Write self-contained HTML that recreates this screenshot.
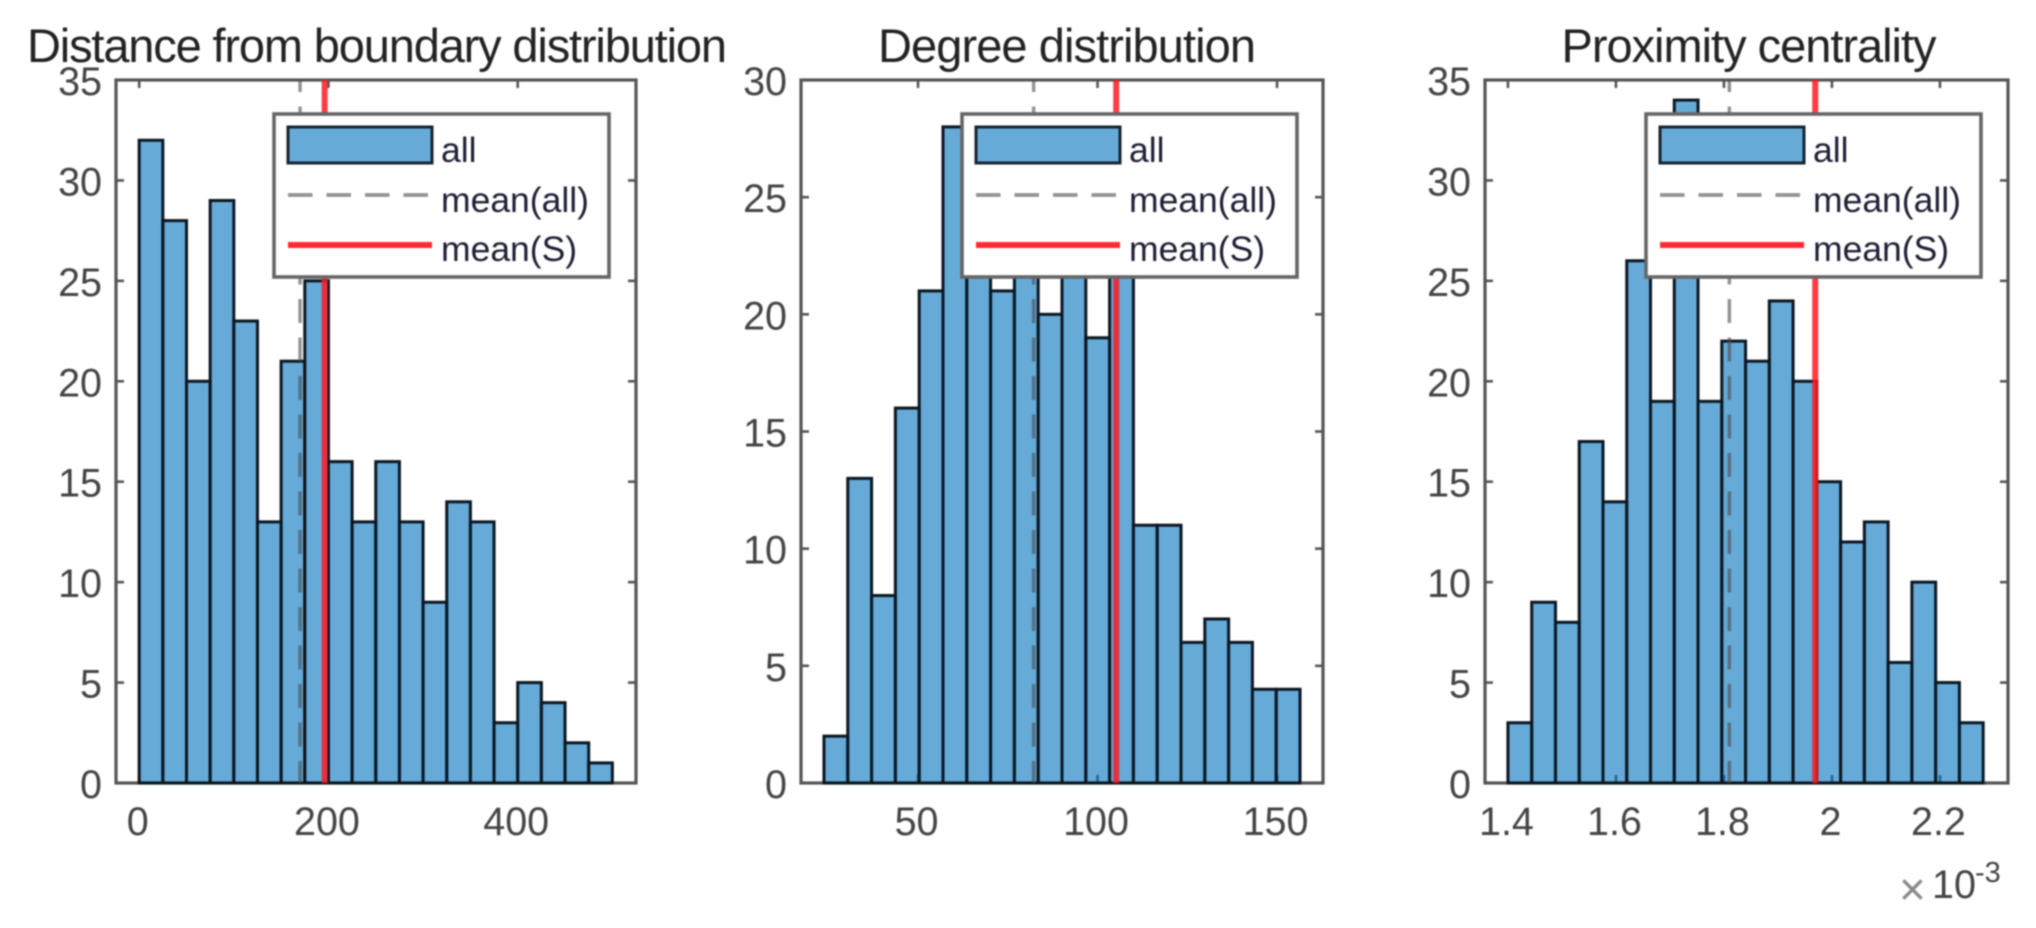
<!DOCTYPE html>
<html lang="en">
<head>
<meta charset="utf-8">
<title>Distribution histograms</title>
<style>
html,body{margin:0;padding:0;background:#fff;width:2036px;height:928px;overflow:hidden}
#figure{display:block;filter:blur(0.8px)}
text{font-family:"Liberation Sans",sans-serif}
</style>
</head>
<body>
<svg id="figure" xmlns="http://www.w3.org/2000/svg" width="2036" height="928" viewBox="0 0 2036 928">
  <rect x="0" y="0" width="2036" height="928" fill="#fff"/>
  <text x="377" y="62" font-size="47" fill="#222" text-anchor="middle" textLength="700" lengthAdjust="spacing">Distance from boundary distribution</text>
  <text x="1067" y="62" font-size="47" fill="#222" text-anchor="middle" textLength="378" lengthAdjust="spacing">Degree distribution</text>
  <text x="1749" y="62" font-size="47" fill="#222" text-anchor="middle" textLength="375" lengthAdjust="spacing">Proximity centrality</text>
  <g id="panel-distance"></g>
  <g id="panel-degree"></g>
  <g id="panel-proximity"></g>
  <g>
    <text x="1899" y="905" font-size="46" fill="#8a8a8a">×</text>
    <text x="1932" y="898" font-size="39.5" fill="#444">10</text>
    <text x="1975" y="882" font-size="29" fill="#444">-3</text>
  </g>
</svg>
<script>
// ---- Data ----
const distanceCounts = [32, 28, 20, 29, 23, 13, 21, 25, 16, 13, 16, 13, 9, 14, 13, 3, 5, 4, 2, 1];
const distanceBinStart = 0;
const distanceBinWidth = 25;
const distanceXLim = [-24.5, 525];
const distanceYLim = [0, 35];
const distanceXTicks = [0, 200, 400];
const distanceXTickLabels = ["0", "200", "400"];
const distanceYTicks = [0, 5, 10, 15, 20, 25, 30, 35];
const distanceMeanAll = 170;
const distanceMeanS = 196;

const degreeCounts = [2, 13, 8, 16, 21, 28, 24, 21, 23, 20, 25, 19, 24, 11, 11, 6, 7, 6, 4, 4];
const degreeBinStart = 23.8;
const degreeBinWidth = 6.63;
const degreeXLim = [17.4, 162.8];
const degreeYLim = [0, 30];
const degreeXTicks = [50, 100, 150];
const degreeXTickLabels = ["50", "100", "150"];
const degreeYTicks = [0, 5, 10, 15, 20, 25, 30];
const degreeMeanAll = 82.2;
const degreeMeanS = 105.2;

const proximityCounts = [3, 9, 8, 17, 14, 26, 19, 34, 19, 22, 21, 24, 20, 15, 12, 13, 6, 10, 5, 3];
const proximityBinStart = 1.4;
const proximityBinWidth = 0.044;
const proximityXLim = [1.3575, 2.326];
const proximityYLim = [0, 35];
const proximityXTicks = [1.4, 1.6, 1.8, 2, 2.2];
const proximityXTickLabels = ["1.4", "1.6", "1.8", "2", "2.2"];
const proximityYTicks = [0, 5, 10, 15, 20, 25, 30, 35];
const proximityMeanAll = 1.81;
const proximityMeanS = 1.969;

const legendLabels = ["all", "mean(all)", "mean(S)"];

// ---- Layout (not data) ----
const TOP = 80, BOTTOM = 783;
const SVGNS = "http://www.w3.org/2000/svg";

function make(parent, tag, attrs, txt) {
  const el = document.createElementNS(SVGNS, tag);
  for (const k in attrs) el.setAttribute(k, attrs[k]);
  if (txt !== undefined) el.textContent = txt;
  parent.appendChild(el);
  return el;
}

function drawPanel(cfg) {
  const g = document.getElementById(cfg.id);
  const xScale = v => cfg.left + (v - cfg.xLim[0]) / (cfg.xLim[1] - cfg.xLim[0]) * (cfg.right - cfg.left);
  const yScale = v => BOTTOM - (v - cfg.yLim[0]) / (cfg.yLim[1] - cfg.yLim[0]) * (BOTTOM - TOP);
  const axisColor = "#555";

  // axes box
  const box = make(g, "rect", {x: cfg.left, y: TOP, width: cfg.right - cfg.left, height: BOTTOM - TOP, fill: "#fff", stroke: axisColor, "stroke-width": 3.2});
  
  

  // x ticks
  cfg.xTicks.forEach((t, i) => {
    const x = xScale(t);
    const tickBottom = make(g, "line", {x1: x, x2: x, y1: BOTTOM, y2: BOTTOM - 8, stroke: axisColor, "stroke-width": 2.6});
    
    
    const tickTop = make(g, "line", {x1: x, x2: x, y1: TOP, y2: TOP + 8, stroke: axisColor, "stroke-width": 2.6});
    
    
    const label = make(g, "text", {x: x - 1.5, y: 835, "font-size": 39.5, fill: "#444", "text-anchor": "middle"}, cfg.xTickLabels[i]);
    
    
  });

  // y ticks
  cfg.yTicks.forEach(t => {
    const y = yScale(t);
    const tickLeft = make(g, "line", {x1: cfg.left, x2: cfg.left + 8, y1: y, y2: y, stroke: axisColor, "stroke-width": 2.6});
    
    
    const tickRight = make(g, "line", {x1: cfg.right, x2: cfg.right - 8, y1: y, y2: y, stroke: axisColor, "stroke-width": 2.6});
    
    
    const label = make(g, "text", {x: cfg.left - 14, y: y + 15, "font-size": 39.5, fill: "#444", "text-anchor": "end"}, String(t));
    
    
  });

  // bars
  cfg.counts.forEach((c, i) => {
    const x0 = xScale(cfg.binStart + i * cfg.binWidth);
    const x1 = xScale(cfg.binStart + (i + 1) * cfg.binWidth);
    const bar = make(g, "rect", {x: x0, y: yScale(c), width: x1 - x0, height: yScale(0) - yScale(c), fill: "#0072BD", "fill-opacity": 0.6, stroke: "#0b1620", "stroke-width": 3});
    
    
  });

  // mean lines
  const meanAll = make(g, "line", {x1: xScale(cfg.meanAll), x2: xScale(cfg.meanAll), y1: TOP, y2: BOTTOM, stroke: "#4a4a4a", "stroke-opacity": 0.6, "stroke-width": 3.4, "stroke-dasharray": "24 14.5", "stroke-dashoffset": 12});
  
  
  const meanS = make(g, "line", {x1: xScale(cfg.meanS), x2: xScale(cfg.meanS), y1: TOP, y2: BOTTOM, stroke: "#ff1a22", "stroke-opacity": 0.85, "stroke-width": 6});
  
  

  // legend
  const L = cfg.legendLeft;
  const legend = make(g, "g", {});
  
  
  const frame = make(legend, "rect", {x: L, y: 114, width: 335, height: 163, fill: "#fff", stroke: "#666", "stroke-width": 3.6});
  
  
  const swatch = make(legend, "rect", {x: L + 14, y: 127, width: 144, height: 36, fill: "#66AAD7", stroke: "#16232e", "stroke-width": 3});
  
  
  const dash = make(legend, "line", {x1: L + 14, x2: L + 156, y1: 195, y2: 195, stroke: "#929292", "stroke-width": 3.8, "stroke-dasharray": "24.5 14"});
  
  
  const red = make(legend, "line", {x1: L + 14, x2: L + 158, y1: 245, y2: 245, stroke: "#ff2a32", "stroke-width": 6});
  
  
  const baselines = [162, 212, 261];
  legendLabels.forEach((s, i) => {
    const t = make(legend, "text", {x: L + 167, y: baselines[i], "font-size": 35.5, fill: "#1e1e34"}, s);
    
    
  });
}

drawPanel({id: "panel-distance", left: 116, right: 636, legendLeft: 274,
  counts: distanceCounts, binStart: distanceBinStart, binWidth: distanceBinWidth,
  xLim: distanceXLim, yLim: distanceYLim, xTicks: distanceXTicks, xTickLabels: distanceXTickLabels,
  yTicks: distanceYTicks, meanAll: distanceMeanAll, meanS: distanceMeanS});
drawPanel({id: "panel-degree", left: 801, right: 1323, legendLeft: 962,
  counts: degreeCounts, binStart: degreeBinStart, binWidth: degreeBinWidth,
  xLim: degreeXLim, yLim: degreeYLim, xTicks: degreeXTicks, xTickLabels: degreeXTickLabels,
  yTicks: degreeYTicks, meanAll: degreeMeanAll, meanS: degreeMeanS});
drawPanel({id: "panel-proximity", left: 1485, right: 2008, legendLeft: 1646,
  counts: proximityCounts, binStart: proximityBinStart, binWidth: proximityBinWidth,
  xLim: proximityXLim, yLim: proximityYLim, xTicks: proximityXTicks, xTickLabels: proximityXTickLabels,
  yTicks: proximityYTicks, meanAll: proximityMeanAll, meanS: proximityMeanS});
</script>
</body>
</html>
